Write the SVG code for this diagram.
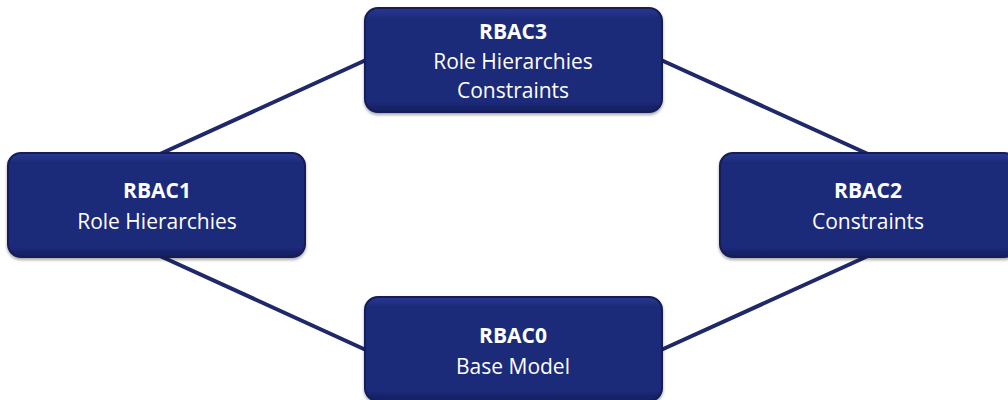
<svg xmlns="http://www.w3.org/2000/svg" width="1008" height="400" viewBox="0 0 1008 400">
<defs>
<linearGradient id="g" x1="0" y1="0" x2="0" y2="1">
<stop offset="0" stop-color="#2a3890"/>
<stop offset="0.1" stop-color="#1c2a7a"/>
<stop offset="0.9" stop-color="#1c2a7a"/>
<stop offset="1" stop-color="#141e5c"/>
</linearGradient>
<filter id="sh" x="-5%" y="-10%" width="110%" height="130%">
<feDropShadow dx="0" dy="2" stdDeviation="1.5" flood-color="#000" flood-opacity="0.35"/>
</filter>
<style>
.box{fill:url(#g);stroke:#131c55;stroke-width:2;filter:url(#sh)}
.t{font-family:"Open Sans","Liberation Sans",sans-serif;font-size:21px;fill:#ffffff;text-anchor:middle}
.b{font-weight:bold}
.c{stroke:#1f2868;stroke-width:4;fill:none;stroke-linecap:round}
</style>
</defs>
<g id="connectors">
<line class="c" x1="160" y1="154" x2="366" y2="60"/>
<line class="c" x1="661" y1="60" x2="868" y2="154"/>
<line class="c" x1="160" y1="256" x2="366" y2="350"/>
<line class="c" x1="661" y1="350" x2="868" y2="256"/>
</g>
<g id="rbac3">
<rect class="box" x="365" y="8" width="297" height="104" rx="13"/>
<text class="t b" x="513" y="39">RBAC3</text>
<text class="t" x="513" y="69">Role Hierarchies</text>
<text class="t" x="513" y="98">Constraints</text>
</g>
<g id="rbac1">
<rect class="box" x="8" y="153" width="297" height="104" rx="13"/>
<text class="t b" x="157" y="198">RBAC1</text>
<text class="t" x="157" y="229">Role Hierarchies</text>
</g>
<g id="rbac2">
<rect class="box" x="720" y="153" width="297" height="104" rx="13"/>
<text class="t b" x="868" y="198">RBAC2</text>
<text class="t" x="868" y="229">Constraints</text>
</g>
<g id="rbac0">
<rect class="box" x="365" y="297" width="297" height="104" rx="13"/>
<text class="t b" x="513" y="343">RBAC0</text>
<text class="t" x="513" y="374">Base Model</text>
</g>
</svg>
